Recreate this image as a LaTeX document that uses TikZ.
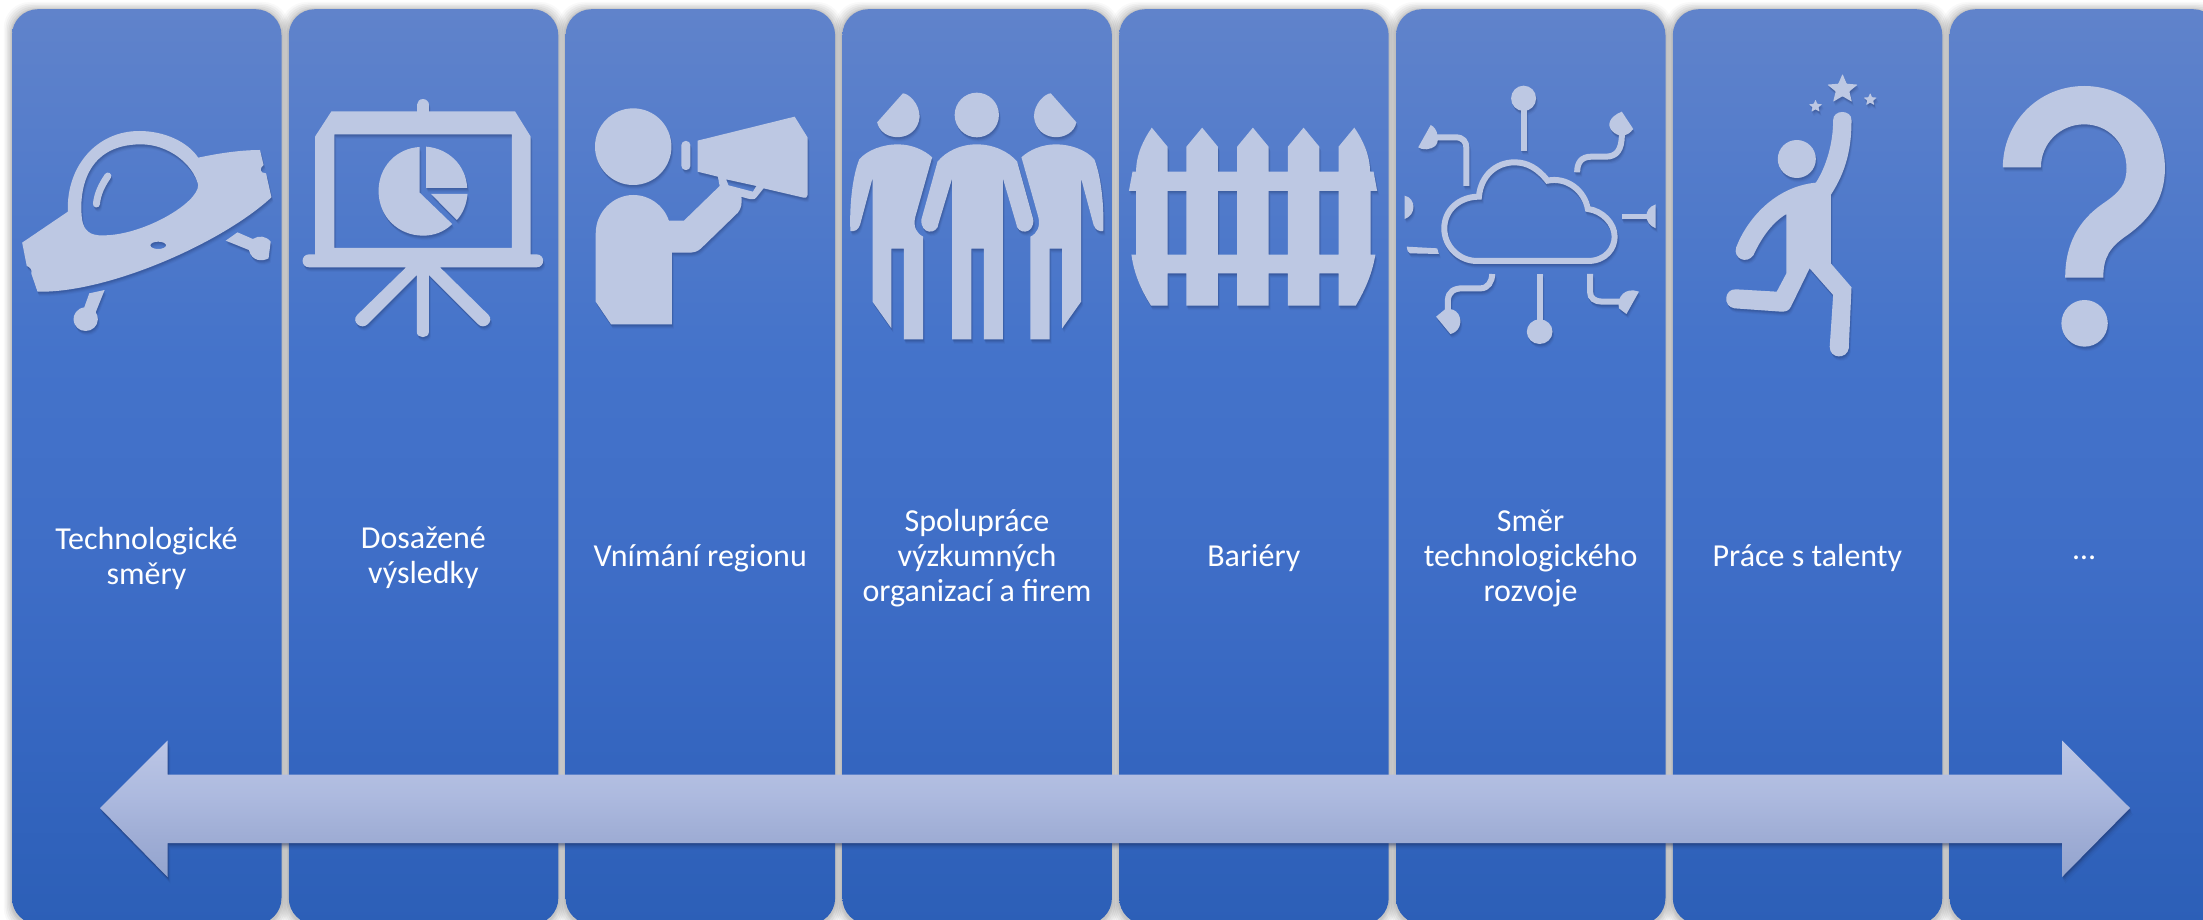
\documentclass[tikz,border=0pt]{standalone}
\usepackage{fontspec}
\setmainfont{Carlito}
\definecolor{icoc}{HTML}{BDC8E3}
\definecolor{shd}{HTML}{1F3060}
\definecolor{pa}{HTML}{2C5FB7}
\definecolor{pb}{HTML}{3566C0}
\definecolor{pc}{HTML}{3F6EC7}
\definecolor{pd}{HTML}{4473CA}
\definecolor{pe}{HTML}{6083CB}
\definecolor{aa}{HTML}{93A4CE}
\definecolor{ab}{HTML}{9FADD5}
\definecolor{ac}{HTML}{ADBADF}
\definecolor{ad}{HTML}{BCC6E5}
\pgfdeclareverticalshading{panelsh}{100bp}{
  color(0bp)=(pa);
  color(25bp)=(pa);
  color(35bp)=(pb);
  color(45bp)=(pc);
  color(56bp)=(pd);
  color(75bp)=(pe);
  color(100bp)=(pe)}
\pgfdeclareverticalshading{arrowsh}{100bp}{
  color(0bp)=(aa);
  color(25bp)=(aa);
  color(40bp)=(ab);
  color(55bp)=(ac);
  color(75bp)=(ad);
  color(100bp)=(ad)}
\tikzset{
  x=1pt,y=-1pt,
  ico/.style={fill=icoc,even odd rule},
  icl/.style={draw=icoc},
  panelbox/.style={rectangle,rounded corners=26pt,minimum width=269.5pt,minimum height=915pt,inner sep=0pt,anchor=north west,shade,shading=panelsh},
  paneltext/.style={text=white,font=\fontsize{32}{35}\selectfont,align=center,anchor=center},
  zoomA/.style={shift={(0,0)},x=.35714pt,y=-.33333pt},
  zoomB/.style={shift={(560,60)},x=.35714pt,y=-.33333pt},
  zoomC/.style={shift={(1120,60)},x=.35714pt,y=-.33333pt},
  zoomD/.style={shift={(1660,40)},x=.34631pt,y=-.33333pt},
}
\newcommand\shpass[3]{%
  \begin{scope}[transform canvas={xshift=#1pt,yshift=-#2pt},
     ico/.style={fill=shd,fill opacity=#3,even odd rule},
     icl/.style={draw=shd,draw opacity=#3}]
  \icongeom
  \end{scope}}
\newcommand\starp[3]{% x y R
  \path[ico,rounded corners=.6pt] (#1,#2) +(-90:#3) -- +(-54:#3*.45) -- +(-18:#3) -- +(18:#3*.45) -- +(54:#3) -- +(90:#3*.45) -- +(126:#3) -- +(162:#3*.45) -- +(198:#3) -- +(234:#3*.45) -- cycle;}
\newcommand\icongeom{%
 % ---- saucer
 \begin{scope}[zoomA]
  \path[ico] (62,728) -- (190,635) .. controls (185,500) and (270,393) .. (390,393) .. controls (460,393) and (525,425) .. (555,473)
    .. controls (620,458) and (680,450) .. (728,450) -- (738,495) .. controls (725,505) and (728,520) .. (745,520) -- (760,592)
    .. controls (620,730) and (300,880) .. (105,875) -- (88,822) .. controls (90,808) and (85,802) .. (75,798) -- cycle
    (395,433) .. controls (470,433) and (540,490) .. (555,555) .. controls (555,610) and (400,706) .. (290,706)
    .. controls (250,708) and (235,690) .. (230,660) .. controls (222,600) and (225,433) .. (395,433) -- cycle
    (443,736) ellipse [x radius=22,y radius=11];
  \path[icl,line width=7pt,line cap=round] (302,528) .. controls (285,555) and (273,580) .. (270,612);
  \path[ico] (293,870) -- (250,880) -- (236,922) .. controls (215,925) and (205,945) .. (206,958) .. controls (207,980) and (222,993) .. (240,993)
    .. controls (258,993) and (274,978) .. (274,958) .. controls (274,950) and (272,942) .. (268,937) -- cycle;
  \path[ico] (632,722) -- (665,697) -- (708,717) .. controls (725,705) and (745,708) .. (758,725) -- (752,775) .. controls (735,785) and (705,785) .. (697,750) -- cycle;
 \end{scope}
 % ---- screen
 \begin{scope}[zoomA]
  \path[icl,line width=11.3pt,line cap=round] (1184,314) -- (1184,345);
  \path[ico] (928,334) -- (1442,334) -- (1486,410) -- (1486,763) -- (1502,763) .. controls (1527,763) and (1527,802) .. (1502,802)
    -- (1232,802) -- (1368,945) .. controls (1385,965) and (1355,992) .. (1338,972) -- (1201,825) -- (1201,995) .. controls (1201,1017) and (1167,1017) .. (1167,995)
    -- (1167,825) -- (1030,972) .. controls (1012,992) and (982,965) .. (1000,945) -- (1137,802) -- (866,802) .. controls (841,802) and (841,763) .. (866,763)
    -- (882,763) -- (882,410) -- cycle
    (936,403) rectangle (1433,744);
  \path[ico] (1175,441) .. controls (1110,445) and (1060,500) .. (1060,573) .. controls (1060,650) and (1115,707) .. (1185,707) .. controls (1215,707) and (1245,695) .. (1266,672) -- (1175,578) -- cycle;
  \path[ico] (1193,440) .. controls (1255,445) and (1305,495) .. (1308,564) -- (1193,564) -- cycle;
  \path[ico] (1207,582) -- (1309,582) .. controls (1307,610) and (1297,640) .. (1279,660) -- cycle;
 \end{scope}
 % ---- megaphone
 \begin{scope}[zoomB]
  \path[ico] (205,260) ellipse [x radius=107,y radius=115];
  \path[ico] (385,242) -- (657,170) -- (693,232) -- (693,405) .. controls (693,412) and (688,415) .. (682,413) -- (570,385) -- (550,412) .. controls (545,420) and (535,420) .. (508,410)
    .. controls (510,430) and (508,445) .. (498,458) -- (395,565) .. controls (385,575) and (375,578) .. (360,578) -- (313,578) -- (313,793) -- (143,793) -- (100,725) -- (100,520)
    .. controls (100,455) and (150,405) .. (205,405) .. controls (250,405) and (290,435) .. (305,482) -- (347,482) -- (447,378) -- (442,350) -- (385,335) -- cycle
    (465,358) -- (550,378) -- (540,395) -- (472,376) -- cycle;
  \path[ico,rounded corners=4pt] (340,243) rectangle (365,330);
 \end{scope}
 % ---- people
 \begin{scope}[zoomB]
  \path[ico] (1167,165) ellipse [x radius=62,y radius=67];
  \path[ico] (960,100) -- (888,187) .. controls (900,248) and (1000,250) .. (1007,170) .. controls (1007,130) and (975,100) .. (960,100) -- cycle;
  \path[ico] (1374,100) -- (1446,187) .. controls (1434,248) and (1334,250) .. (1327,170) .. controls (1327,130) and (1359,100) .. (1374,100) -- cycle;
  \path[ico] (1167,253) .. controls (1120,253) and (1080,275) .. (1057,305) -- (1012,478) .. controls (1008,525) and (1058,525) .. (1060,490) -- (1098,355) -- (1098,838) -- (1152,838) -- (1152,566) -- (1187,566) -- (1187,838) -- (1240,838) -- (1240,355) -- (1277,490) .. controls (1279,525) and (1329,525) .. (1325,478) -- (1280,305) .. controls (1257,275) and (1214,253) .. (1167,253) -- cycle;
  \path[ico] (945,253) .. controls (985,253) and (1020,270) .. (1042,292) -- (995,470) .. controls (988,500) and (998,520) .. (1017,530) -- (1017,838) -- (963,838) -- (963,566) -- (928,566) -- (928,805) -- (875,725) -- (875,355) -- (840,495) .. controls (835,510) and (825,515) .. (813,513) .. controls (810,430) and (820,345) .. (838,298) .. controls (860,270) and (905,253) .. (945,253) -- cycle;
  \path[ico] (1389,253) .. controls (1349,253) and (1314,270) .. (1292,292) -- (1339,470) .. controls (1346,500) and (1336,520) .. (1317,530) -- (1317,838) -- (1371,838) -- (1371,566) -- (1406,566) -- (1406,805) -- (1459,725) -- (1459,355) -- (1494,495) .. controls (1499,510) and (1509,515) .. (1521,513) .. controls (1524,430) and (1514,345) .. (1496,298) .. controls (1474,270) and (1429,253) .. (1389,253) -- cycle;
 \end{scope}
 % ---- fence
 \begin{scope}[zoomC]
  \path[ico] (89,203) -- (133,260) -- (133,335) -- (186,335) -- (186,260) -- (230,203) -- (274,260) -- (274,335) -- (328,335) -- (328,260) -- (372,203) -- (416,260) -- (416,335) -- (470,335) -- (470,260) -- (514,203) -- (558,260) -- (558,335) -- (612,335) -- (612,260) -- (656,203)
    .. controls (680,240) and (700,285) .. (700,335) -- (710,335) -- (720,393) -- (702,393) -- (702,584) -- (715,584) .. controls (705,650) and (680,700) .. (660,737)
    -- (612,737) -- (612,640) -- (558,640) -- (558,737) -- (470,737) -- (470,640) -- (416,640) -- (416,737) -- (328,737) -- (328,640) -- (274,640) -- (274,737) -- (186,737) -- (186,640) -- (133,640) -- (133,737) -- (87,737)
    .. controls (65,700) and (40,650) .. (32,584) -- (45,584) -- (45,393) -- (25,393) -- (35,335) -- (45,335) .. controls (45,285) and (65,240) .. (89,203) -- cycle
    (133,393) rectangle (186,584) (274,393) rectangle (328,584) (416,393) rectangle (470,584) (558,393) rectangle (612,584);
 \end{scope}
 % ---- cloud
 \begin{scope}[zoomC]
  \path[icl,line width=6pt] (1000,603) -- (1310,603) .. controls (1360,603) and (1385,565) .. (1385,530) .. controls (1385,490) and (1350,452) .. (1310,447) .. controls (1300,390) and (1250,350) .. (1197,362) .. controls (1170,325) and (1140,307) .. (1105,307) .. controls (1050,307) and (1010,350) .. (1005,410) .. controls (950,410) and (908,450) .. (908,505) .. controls (908,560) and (950,603) .. (1000,603) -- cycle;
  \path[ico] (1130,115) ellipse [x radius=35,y radius=38];
  \path[icl,line width=6pt] (1130,150) -- (1130,272);
  \path[ico] (1175,815) ellipse [x radius=36,y radius=37];
  \path[icl,line width=6pt] (1175,642) -- (1175,785);
  \path[ico] (870,195) .. controls (890,205) and (895,240) .. (885,255) .. controls (870,272) and (845,270) .. (835,262) -- cycle;
  \path[icl,line width=6pt] (885,232) -- (940,232) .. controls (960,232) and (970,245) .. (970,265) -- (970,378);
  \path[ico] (1405,155) -- (1437,207) .. controls (1420,232) and (1395,232) .. (1378,213) .. controls (1362,195) and (1370,170) .. (1405,155) -- cycle;
  \path[icl,line width=6pt] (1405,225) .. controls (1405,270) and (1390,290) .. (1360,290) -- (1320,290) .. controls (1290,290) and (1280,310) .. (1280,337);
  \path[icl,line width=5.5pt] (1405,470) -- (1480,470);
  \path[ico] (1500,433) .. controls (1465,445) and (1465,490) .. (1500,505) -- cycle;
  \path[ico] (797,407) .. controls (830,415) and (830,465) .. (797,477) -- cycle;
  \path[ico] (803,560) -- (888,565) -- (893,582) -- (812,580) .. controls (806,578) and (804,570) .. (803,560) -- cycle;
  \path[ico] (885,770) -- (910,748) .. controls (945,740) and (960,775) .. (950,800) .. controls (945,812) and (935,820) .. (925,822) -- cycle;
  \path[icl,line width=6pt] (918,755) -- (918,720) .. controls (920,695) and (935,685) .. (960,685) -- (1010,685) .. controls (1030,685) and (1042,665) .. (1042,642);
  \path[icl,line width=6pt] (1316,642) -- (1316,695) .. controls (1316,715) and (1330,725) .. (1350,725) -- (1405,725);
  \path[ico] (1453,695) -- (1418,762) -- (1397,745) .. controls (1390,710) and (1415,680) .. (1453,695) -- cycle;
 \end{scope}
 % ---- jumper
 \begin{scope}[zoomD]
  \path[ico] (395,357) ellipse [x radius=55,y radius=57];
  \starp{527}{148}{46}
  \starp{449}{199}{20}
  \starp{607}{179}{20}
  \path[ico] (500,240) .. controls (500,208) and (553,208) .. (553,240) .. controls (553,320) and (540,390) .. (493,465) -- (493,670) -- (553,742) -- (545,925) .. controls (540,958) and (490,958) .. (490,920) -- (500,765) -- (432,685) -- (378,800) .. controls (372,812) and (365,815) .. (350,815) -- (215,805) .. controls (180,800) and (185,745) .. (220,748) -- (337,755) -- (365,700) -- (365,522) .. controls (320,550) and (290,600) .. (270,645) .. controls (250,675) and (210,655) .. (220,622) .. controls (250,540) and (330,440) .. (450,428) .. controls (480,380) and (500,310) .. (500,240) -- cycle;
 \end{scope}
 % ---- question mark
 \begin{scope}[zoomD]
  \path[ico] (990,382) .. controls (990,250) and (1090,138) .. (1225,138) .. controls (1360,138) and (1458,250) .. (1458,385) .. controls (1458,480) and (1410,540) .. (1350,585) .. controls (1300,620) and (1280,650) .. (1280,713) -- (1170,713) .. controls (1170,610) and (1210,540) .. (1280,490) .. controls (1330,455) and (1347,430) .. (1347,385) .. controls (1347,310) and (1295,253) .. (1225,253) .. controls (1155,253) and (1100,310) .. (1100,382) -- cycle;
  \path[ico] (1226,850) ellipse [x radius=67,y radius=70];
 \end{scope}
}
\newcommand\arrowpath{(100,808) -- (167.5,740.5) -- (167.5,774.5) -- (2062,774.5) -- (2062,740.5) -- (2130,808) -- (2062,877) -- (2062,843) -- (167.5,843) -- (167.5,877) -- cycle}
\begin{document}
\begin{tikzpicture}
\useasboundingbox (0,0) rectangle (2203,920);
\fill[white] (0,0) rectangle (2203,920);
\begin{scope}
\clip (0,0) rectangle (2203,920);
% soft shadows of the panels
\foreach \i in {0,...,7}{
  \pgfmathsetmacro\xa{11.8+276.8*\i}
  \foreach \e/\o in {8/.025,6.5/.035,5/.04,3.5/.045,2/.05,1/.05}{
    \fill[black,fill opacity=\o,rounded corners=26pt] (\xa-\e,9+1-\e) rectangle (\xa+269.5+\e,924+2+\e);
  }
}
% panels
\node[panelbox] (p1) at (11.8,9) {};
\node[panelbox] (p2) at (288.6,9) {};
\node[panelbox] (p3) at (565.4,9) {};
\node[panelbox] (p4) at (842.2,9) {};
\node[panelbox] (p5) at (1119,9) {};
\node[panelbox] (p6) at (1395.8,9) {};
\node[panelbox] (p7) at (1672.6,9) {};
\node[panelbox] (p8) at (1949.4,9) {};
\end{scope}
% icon shadows, then icons
\shpass{.5}{1.5}{.14}
\shpass{1}{2.5}{.12}
\shpass{1.5}{3.5}{.08}
\shpass{2}{4.5}{.05}
\icongeom
% labels
\node[paneltext] (t1) at (146.5,558) {Technologické\\směry};
\node[paneltext] (t2) at (423.4,558) {Dosažené\\výsledky};
\node[paneltext] (t3) at (700.2,558) {Vnímání regionu};
\node[paneltext] (t4) at (977,558) {Spolupráce\\výzkumných\\organizací a firem};
\node[paneltext] (t5) at (1253.8,558) {Bariéry};
\node[paneltext] (t6) at (1530.6,558) {Směr\\technologického\\rozvoje};
\node[paneltext] (t7) at (1807.4,558) {Práce s talenty};
\node[paneltext] (t8) at (2084.2,558) {…};
% double arrow
\foreach \dx/\dy/\op in {0.5/1.5/.2,1/2.5/.16,1.5/3.5/.12,2/5/.08,3/6.5/.05}{
  \fill[shd,fill opacity=\op,transform canvas={xshift=\dx pt,yshift=-\dy pt}] \arrowpath;
}
\path[shade,shading=arrowsh] \arrowpath;
\end{tikzpicture}
\end{document}
